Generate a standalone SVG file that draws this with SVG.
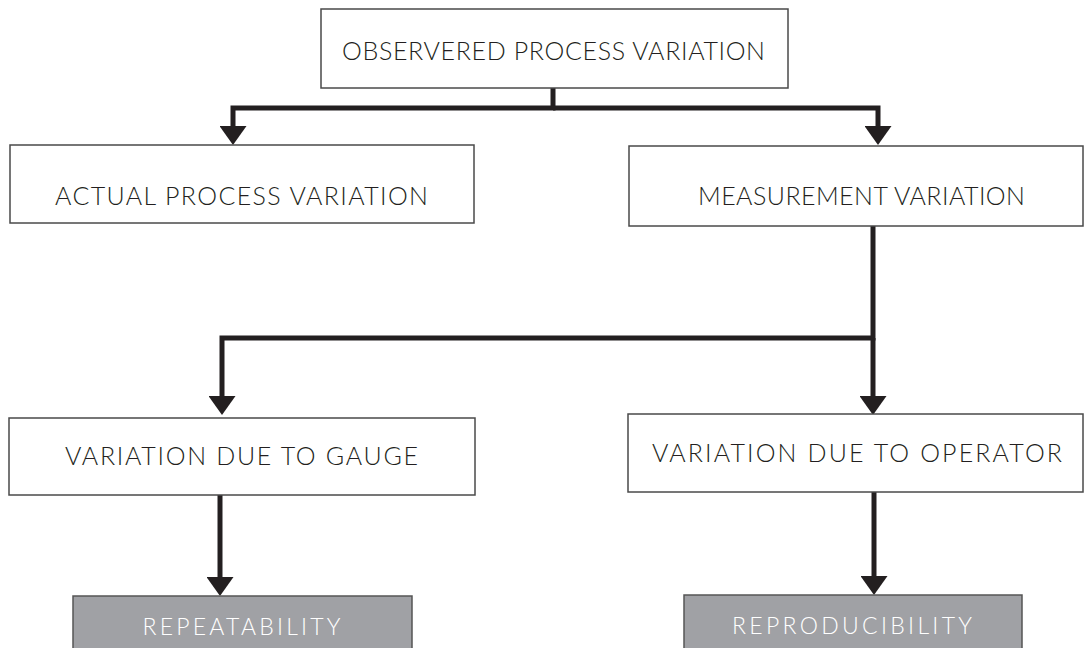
<svg xmlns="http://www.w3.org/2000/svg" width="1090" height="648" viewBox="0 0 1090 648">
  <style>
    .box { fill: #ffffff; stroke: #4a4a4a; stroke-width: 1.5; }
    .gbox { fill: #a0a1a5; stroke: #555555; stroke-width: 1.5; }
    .lbl { font-family: "Lato", "Liberation Sans", sans-serif; font-weight: 300; font-size: 25px; fill: #231f20; text-anchor: middle; }
    .glbl { font-family: "Lato", "Liberation Sans", sans-serif; font-weight: 300; font-size: 23px; fill: #ffffff; text-anchor: middle; }
    .conn { fill: none; stroke: #231f20; stroke-width: 5; stroke-linejoin: miter; marker-end: url(#arrow); }
  </style>
  <defs>
    <marker id="arrow" markerUnits="userSpaceOnUse" markerWidth="19" markerHeight="27" refX="9" refY="13.5" orient="auto" viewBox="0 0 19 27">
      <path d="M0,0 L19,13.5 L0,27 Z" fill="#231f20"/>
    </marker>
  </defs>
  <rect width="1090" height="648" fill="#ffffff"/>
  <g id="connectors">
    <path class="conn" d="M553,88 V108 H233 V135"/>
    <path class="conn" d="M553,108 H878 V135"/>
    <path class="conn" d="M873,226 V338 H222 V405"/>
    <path class="conn" d="M873,338 V405"/>
    <path class="conn" d="M220,495 V586"/>
    <path class="conn" d="M874,492 V585"/>
  </g>
  <g id="observed">
    <rect class="box" x="321" y="9" width="467" height="79"/>
    <text class="lbl" x="553.5" y="60" textLength="423" lengthAdjust="spacing">OBSERVERED PROCESS VARIATION</text>
  </g>
  <g id="actual">
    <rect class="box" x="10" y="145" width="464" height="78"/>
    <text class="lbl" x="241.5" y="205" textLength="373" lengthAdjust="spacing">ACTUAL PROCESS VARIATION</text>
  </g>
  <g id="measurement">
    <rect class="box" x="629" y="146" width="454" height="80"/>
    <text class="lbl" x="861.5" y="205" textLength="327" lengthAdjust="spacing">MEASUREMENT VARIATION</text>
  </g>
  <g id="gauge">
    <rect class="box" x="9" y="418" width="466" height="77"/>
    <text class="lbl" x="241.5" y="465" textLength="353" lengthAdjust="spacing">VARIATION DUE TO GAUGE</text>
  </g>
  <g id="operator">
    <rect class="box" x="628" y="414" width="455" height="78"/>
    <text class="lbl" x="857" y="462" textLength="410" lengthAdjust="spacing">VARIATION DUE TO OPERATOR</text>
  </g>
  <g id="repeatability">
    <rect class="gbox" x="73" y="596" width="339" height="60"/>
    <text class="glbl" x="241.5" y="635" textLength="198" lengthAdjust="spacing">REPEATABILITY</text>
  </g>
  <g id="reproducibility">
    <rect class="gbox" x="684" y="595" width="338" height="60"/>
    <text class="glbl" x="852" y="634" textLength="240" lengthAdjust="spacing">REPRODUCIBILITY</text>
  </g>
</svg>
